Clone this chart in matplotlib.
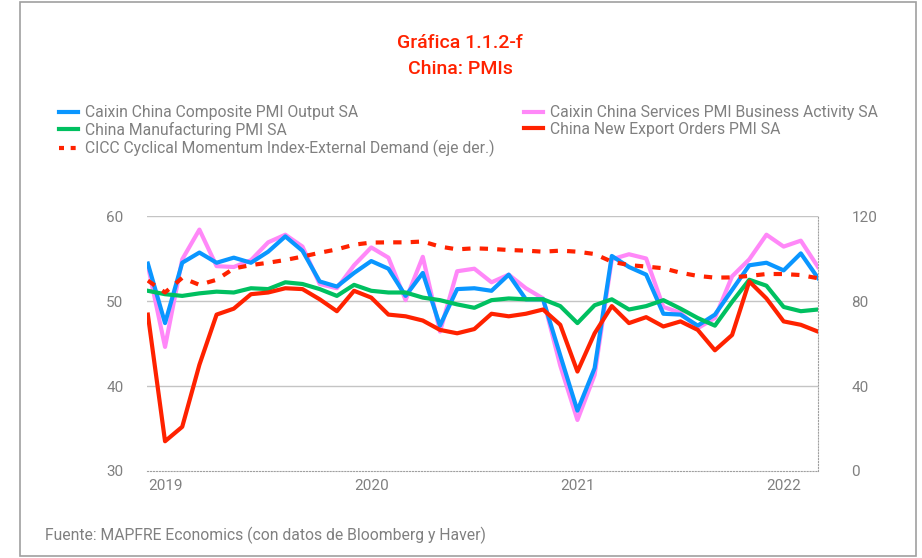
import matplotlib.pyplot as plt
from matplotlib.lines import Line2D
from matplotlib.patches import Rectangle
import numpy as np

plt.rcParams['font.family'] = ['Roboto', 'DejaVu Sans']

# meses desde dic-2018 hasta mar-2022
year_ticks = [1, 13, 25, 37]
year_labels = ['2019', '2020', '2021', '2022']

composite = [54.4, 47.4, 54.5, 55.7, 54.5, 55.1, 54.5, 55.8, 57.6, 55.9,
             52.3, 51.7, 53.3, 54.7, 53.8, 50.6, 53.3, 47.1, 51.4, 51.5,
             51.2, 53.1, 50.2, 50.2, 43.6, 37.1, 42.1, 55.3, 54.0, 53.1,
             48.5, 48.4, 47.1, 48.4, 51.3, 54.2, 54.5, 53.6, 55.6, 52.7]
services = [54.2, 44.6, 54.9, 58.4, 54.1, 54.0, 54.8, 56.9, 57.8, 56.4,
            52.0, 51.5, 54.2, 56.3, 55.1, 50.1, 55.2, 46.4, 53.5, 53.8,
            52.2, 53.1, 51.5, 50.3, 42.4, 36.0, 41.3, 54.9, 55.5, 55.0,
            49.3, 48.6, 46.8, 48.0, 52.9, 54.9, 57.8, 56.4, 57.1, 54.0]
manufacturing = [51.2, 50.8, 50.6, 50.9, 51.1, 51.0, 51.5, 51.4, 52.2, 52.0,
                 51.4, 50.6, 51.9, 51.2, 51.0, 51.0, 50.4, 50.1, 49.6, 49.2,
                 50.1, 50.3, 50.2, 50.2, 49.4, 47.4, 49.5, 50.2, 49.0, 49.4,
                 50.1, 49.1, 48.0, 47.1, 49.9, 52.5, 51.8, 49.3, 48.8, 49.0]
export_orders = [48.4, 33.5, 35.2, 42.5, 48.4, 49.1, 50.8, 51.0, 51.5, 51.4,
                 50.2, 48.8, 51.2, 50.4, 48.4, 48.2, 47.7, 46.6, 46.2, 46.7,
                 48.5, 48.2, 48.5, 49.0, 47.2, 41.7, 46.2, 49.4, 47.4, 48.1,
                 47.0, 47.6, 46.6, 44.2, 46.0, 52.3, 50.3, 47.6, 47.2, 46.4]
cicc = [89.6, 84.0, 90.9, 87.6, 90.0, 95.3, 96.9, 98.0, 99.3, 100.9,
        102.7, 104.3, 106.5, 107.5, 107.6, 107.6, 108.0, 105.6, 104.3, 104.8,
        104.5, 104.0, 103.7, 103.2, 103.7, 103.2, 102.1, 98.5, 96.9, 96.2,
        95.4, 93.3, 91.8, 91.0, 91.1, 91.8, 92.7, 92.7, 92.2, 90.7]

c_blue = '#0a96ff'
c_pink = '#ff88f8'
c_green = '#00c060'
c_red = '#ff2200'
c_grey = '#808080'

x = np.arange(len(composite))

fig = plt.figure(figsize=(9.22, 5.58), dpi=100)
fig.patches.append(Rectangle((20 / 922, 1 - 556 / 558), 896 / 922, 554 / 558,
                             transform=fig.transFigure, fill=False,
                             edgecolor='#a0a0a0', linewidth=1.2))

ax = fig.add_axes([147 / 922, 1 - 471 / 558, 671 / 922, 255 / 558])
ax2 = ax.twinx()

ax.plot(x, services, color=c_pink, lw=3, zorder=2)
ax.plot(x, composite, color=c_blue, lw=3, zorder=3)
ax.plot(x, manufacturing, color=c_green, lw=3, zorder=4)
ax.plot(x, export_orders, color=c_red, lw=3, zorder=5)
ax2.plot(x, cicc, color=c_red, lw=3, ls=(0, (2, 2.2)))

ax.set_xlim(-0.05, 39)
ax.set_ylim(30, 60)
ax2.set_ylim(0, 120)
ax.set_yticks([30, 40, 50, 60])
ax2.set_yticks([0, 40, 80, 120])
ax.set_xticks(year_ticks)
ax.set_xticklabels(year_labels)

for y in [40, 50, 60]:
    ax.axhline(y, color='#c4c4c4', lw=1, zorder=0)

for a in (ax, ax2):
    for s in a.spines.values():
        s.set_visible(False)
    a.tick_params(length=0, labelsize=11, labelcolor=c_grey)
ax.spines['bottom'].set_visible(True)
ax.spines['bottom'].set_color('#a0a0a0')
ax.spines['bottom'].set_linestyle(':')
ax2.spines['right'].set_visible(True)
ax2.spines['right'].set_color('#a0a0a0')
ax2.spines['right'].set_linestyle(':')
ax.tick_params(axis='y', pad=17)
ax2.tick_params(axis='y', pad=24)
ax.tick_params(axis='x', pad=6)

fig.text(460 / 922, 1 - 43 / 558, 'Gráfica 1.1.2-f', color=c_red,
         fontsize=14, fontweight='medium', ha='center', va='center')
fig.text(460 / 922, 1 - 69 / 558, 'China: PMIs', color=c_red,
         fontsize=14, fontweight='medium', ha='center', va='center')

leg_kw = dict(frameon=False, fontsize=11.3, labelcolor=c_grey,
              handlelength=1.2, handletextpad=0.45, labelspacing=0.12,
              borderpad=0, borderaxespad=0, loc='upper left')
h1 = [Line2D([], [], color=c_blue, lw=3),
      Line2D([], [], color=c_green, lw=3),
      Line2D([], [], color=c_red, lw=3, ls=(0, (1.2, 1.6)))]
fig.legend(h1, ['Caixin China Composite PMI Output SA',
                'China Manufacturing PMI SA',
                'CICC Cyclical Momentum Index-External Demand (eje der.)'],
           bbox_to_anchor=(59 / 922, 1 - 105 / 558), **leg_kw)
h2 = [Line2D([], [], color=c_pink, lw=3),
      Line2D([], [], color=c_red, lw=3)]
fig.legend(h2, ['Caixin China Services PMI Business Activity SA',
                'China New Export Orders PMI SA'],
           bbox_to_anchor=(524 / 922, 1 - 105 / 558), **leg_kw)

fig.text(45 / 922, 1 - 535 / 558,
         'Fuente: MAPFRE Economics (con datos de Bloomberg y Haver)',
         color=c_grey, fontsize=11.3, ha='left', va='center')

fig.savefig('out.png', dpi=100)
